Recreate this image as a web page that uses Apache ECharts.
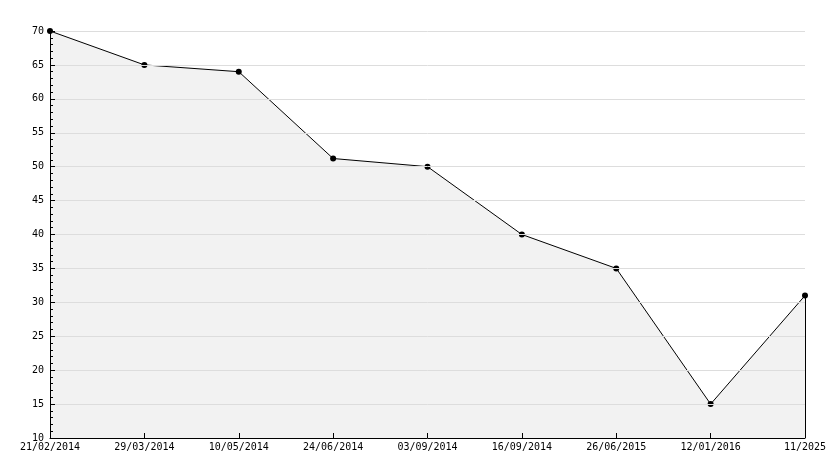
<!DOCTYPE html>
<html><head><meta charset="utf-8">
<script src="https://cdn.jsdelivr.net/npm/echarts@6/dist/echarts.min.js"></script>
<style>html,body{margin:0;padding:0;background:#fff}#main{width:834px;height:468px}</style>
</head><body><div id="main"></div>
<script>
var categories = ['21/02/2014', '29/03/2014', '10/05/2014', '24/06/2014', '03/09/2014', '16/09/2014', '26/06/2015', '12/01/2016', '11/2025'];
var values = [70, 65, 64, 51.2, 50, 40, 35, 15, 31];

var font = 'DejaVu Sans Mono';
var last = categories.length - 1;
var chart = echarts.init(document.getElementById('main'));
chart.setOption({
  animation: false,
  grid: { left: 50, right: 29, top: 31, bottom: 30 },
  xAxis: {
    type: 'category',
    data: categories,
    boundaryGap: false,
    z: 5,
    axisLine: { onZero: false, lineStyle: { color: '#000', width: 1 } },
    axisTick: { show: true, inside: true, length: 5, lineStyle: { color: '#000' } },
    axisLabel: { color: '#000', fontFamily: font, fontSize: 10, margin: 4 },
    splitLine: { show: false }
  },
  yAxis: {
    type: 'value',
    min: 10, max: 70, interval: 5,
    z: 5,
    axisLine: { show: true, onZero: false, lineStyle: { color: '#000' } },
    axisTick: { show: true, inside: true, length: 5, lineStyle: { color: '#000' } },
    minorTick: { show: true, splitNumber: 5, length: 3, lineStyle: { color: '#000' } },
    axisLabel: { color: '#000', fontFamily: font, fontSize: 10, margin: 6 },
    splitLine: { show: true, lineStyle: { color: '#ddd', width: 1 } }
  },
  series: [{
    type: 'line',
    data: values,
    symbol: 'circle',
    symbolSize: 6,
    z: 2,
    itemStyle: { color: '#000' },
    lineStyle: { color: '#000', width: 1 },
    areaStyle: { color: '#f2f2f2', opacity: 1 },
    markLine: {
      silent: true, symbol: 'none', label: { show: false },
      lineStyle: { color: '#000', width: 1, type: 'solid' },
      data: [[{ coord: [last, 10] }, { coord: [last, values[last]] }]]
    }
  }]
});
</script></body></html>
